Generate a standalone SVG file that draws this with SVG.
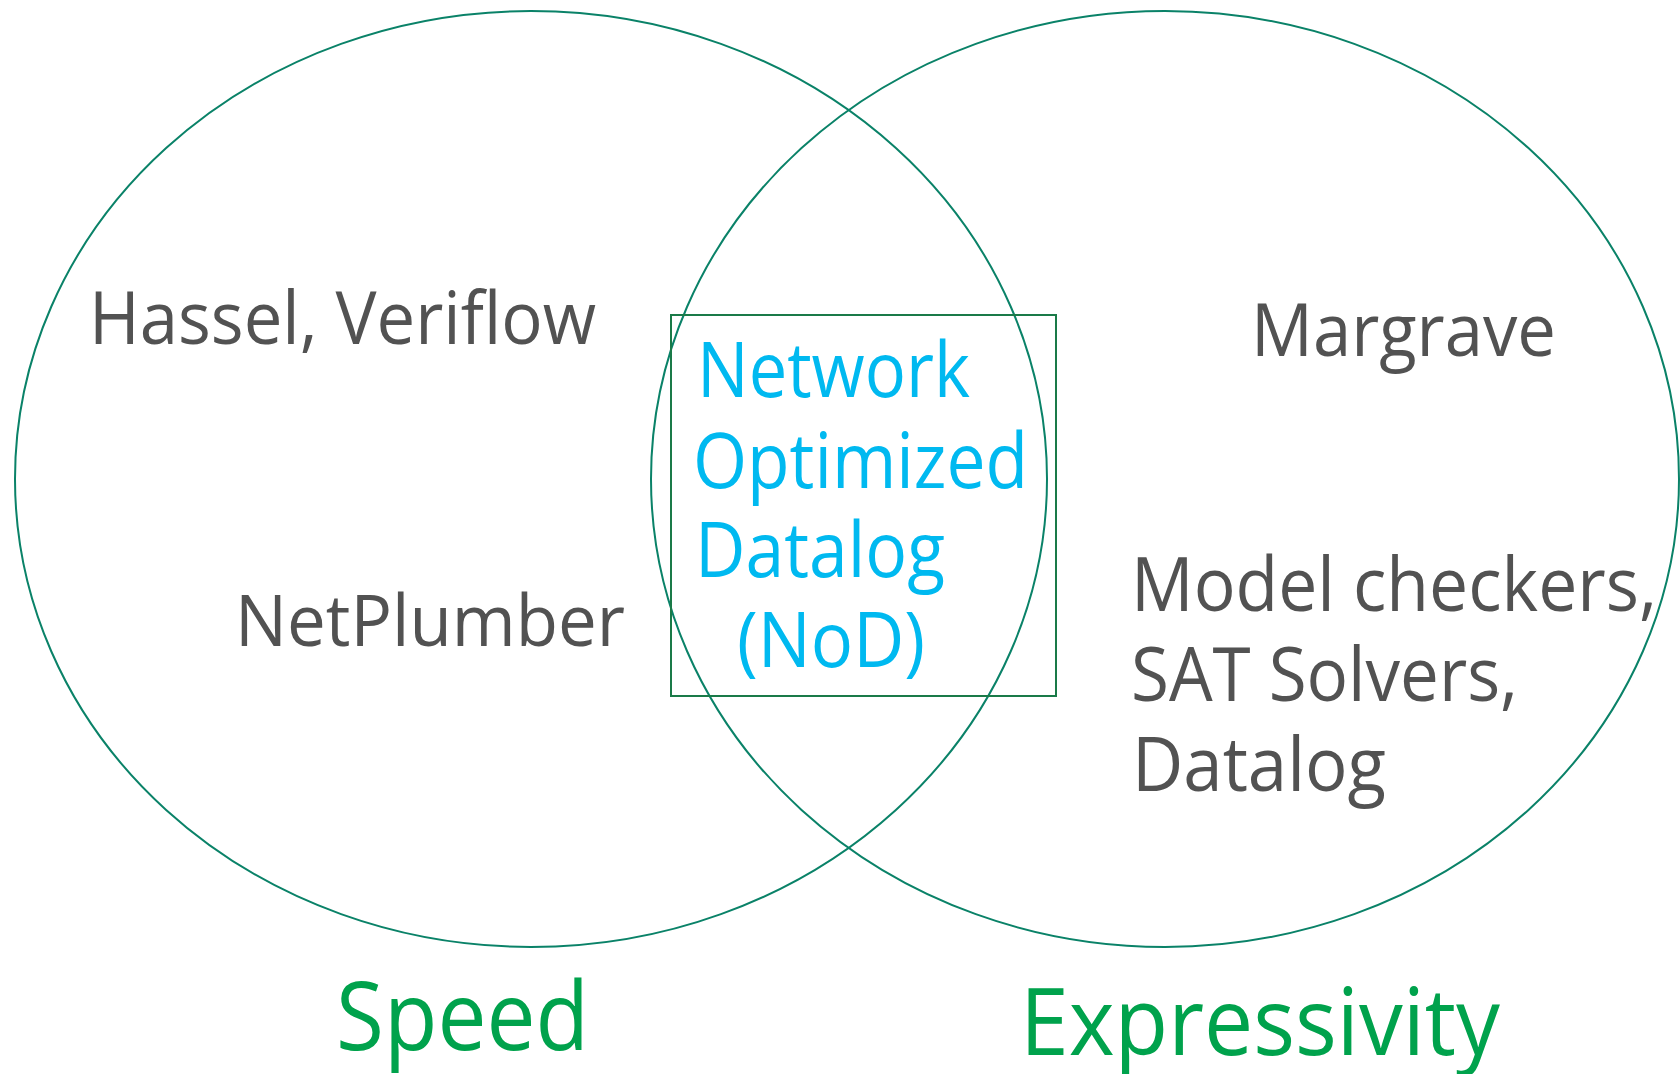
<svg xmlns="http://www.w3.org/2000/svg" width="1680" height="1074" viewBox="0 0 1680 1074">
<style>
.ring{fill:none;stroke:#0A8268;stroke-width:2}
.box{fill:none;stroke:#1A7A48;stroke-width:2}
text{font-family:"Open Sans","Noto Sans","DejaVu Sans",sans-serif}
.g{fill:#525252}
.b{fill:#00B9F0}
.l{fill:#00A24C}
</style>
<rect width="1680" height="1074" fill="#ffffff"/>
<g id="speed-set">
<ellipse class="ring" cx="531" cy="479" rx="516" ry="468"/>
</g>
<g id="expressivity-set">
<ellipse class="ring" cx="1165" cy="479" rx="514" ry="468"/>
</g>
<g id="nod-box">
<rect class="box" x="671" y="315" width="385" height="381"/>
<text class="b" font-size="76" x="697" y="397" textLength="273" lengthAdjust="spacingAndGlyphs">Network</text>
<text class="b" font-size="76" x="693" y="488" textLength="335" lengthAdjust="spacingAndGlyphs">Optimized</text>
<text class="b" font-size="76" x="695" y="577" textLength="250" lengthAdjust="spacingAndGlyphs">Datalog</text>
<text class="b" font-size="76" x="737" y="667" textLength="188" lengthAdjust="spacingAndGlyphs">(NoD)</text>
</g>
<g id="hassel">
<text class="g" font-size="74" x="89" y="344" textLength="507" lengthAdjust="spacingAndGlyphs">Hassel, Veriflow</text>
</g>
<g id="netplumber">
<text class="g" font-size="72" x="235" y="646" textLength="390" lengthAdjust="spacingAndGlyphs">NetPlumber</text>
</g>
<g id="margrave">
<text class="g" font-size="74" x="1251" y="356" textLength="305" lengthAdjust="spacingAndGlyphs">Margrave</text>
</g>
<g id="model-checkers">
<text class="g" font-size="75" x="1131" y="611" textLength="526" lengthAdjust="spacingAndGlyphs">Model checkers,</text>
<text class="g" font-size="75" x="1131" y="701" textLength="387" lengthAdjust="spacingAndGlyphs">SAT Solvers,</text>
<text class="g" font-size="75" x="1132" y="791" textLength="254" lengthAdjust="spacingAndGlyphs">Datalog</text>
</g>
<g id="speed-label">
<text class="l" font-size="95" x="336" y="1050" textLength="253" lengthAdjust="spacingAndGlyphs">Speed</text>
</g>
<g id="expressivity-label">
<text class="l" font-size="94" x="1020" y="1055" textLength="480" lengthAdjust="spacingAndGlyphs">Expressivity</text>
</g>
<g id="connectors"></g>
</svg>
